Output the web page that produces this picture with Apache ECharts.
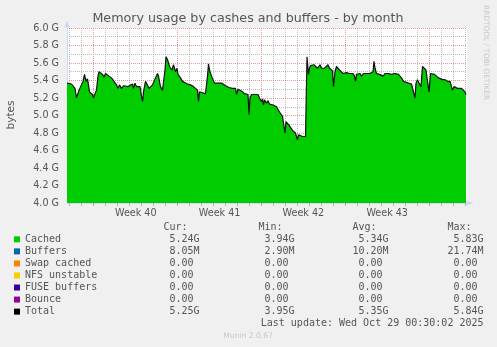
<!DOCTYPE html>
<html>
<head>
<meta charset="utf-8">
<script src="https://cdn.jsdelivr.net/npm/echarts@6/dist/echarts.min.js"></script>
<style>
html,body{margin:0;padding:0;background:#F0F0F0;}
#chart{width:497px;height:347px;}
</style>
</head>
<body>
<div id="chart"></div>
<script>
// ---- data (hours since start of week 40, value in G bytes) ----
const hours = [-52,-48,-43,-39,-36,-33,-31,-28,-25,-20,-17,-14,-11,-9,-7,-5,-1,1,4,7,10,12,15,19,22,25,29,32,37,42,47,50,53,57,61,65,70,74,79,81,84,87,90,94,97,99,101,
105,109,112,115,119,122,125,129,131,133,135,139,142,144,146,149,151,153,155,158,161,163,165,168,170,173,175,179,182,189,195,201,205,209,211,213,215,219,222,225,229,231,233,237,240,243,247,250,254,257,261,
265,269,272,275,279,282,285,287,290,293,297,300,303,307,310,312,314,317,320,323,327,330,333,337,339,341,343,347,350,353,357,360,363,367,370,373,377,379,382,384,386,389,392,395,399,402,405,409,411,415,419,422,425,
428,431,433,435,439,442,445,449,452,454,457,460,463,467,470,473,475,479,481,484,487,490,493,497,500,503,507,510,513,517,520,523,525,527,531,534,537,541,544,547,551,554,557,560,562,564,567,570,573,577,580,584,
591,594,597,601,604,607,611,614,617,621,624,631,637,641,644,646,649,652,655,656,659,663,666,669,672,675,679,683,687,691,695,699,704,709,714,717,719,722,725,729,733,737,741,744,746];
const cachedG = [5.37,5.39,5.36,5.38,5.31,5.20,5.18,5.29,5.31,5.39,5.47,5.39,5.42,5.35,5.27,5.25,5.24,5.20,5.25,5.29,5.45,5.50,5.48,5.47,5.44,5.48,5.48,5.45,5.43,5.39,5.35,5.31,5.35,5.31,5.34,5.32,5.33,5.31,5.36,5.31,5.37,5.33,5.35,5.33,5.22,5.16,5.27,
5.39,5.37,5.31,5.29,5.35,5.39,5.43,5.48,5.45,5.39,5.33,5.29,5.31,5.52,5.67,5.64,5.62,5.56,5.57,5.52,5.58,5.54,5.50,5.54,5.47,5.48,5.43,5.39,5.37,5.36,5.35,5.33,5.31,5.29,5.16,5.27,5.29,5.26,5.27,5.25,5.45,5.59,5.52,5.45,5.41,5.37,5.39,5.37,5.39,5.37,5.38,
5.34,5.33,5.32,5.33,5.31,5.30,5.31,5.24,5.30,5.29,5.28,5.27,5.25,5.24,5.24,5.01,5.20,5.24,5.22,5.24,5.22,5.24,5.20,5.16,5.19,5.12,5.18,5.14,5.17,5.13,5.15,5.12,5.13,5.10,5.08,5.04,5.02,4.99,4.97,4.80,4.93,4.95,4.89,4.87,4.83,4.81,4.80,4.72,4.78,4.76,4.76,4.75,4.76,
5.67,5.47,5.54,5.57,5.55,5.58,5.56,5.54,5.52,5.58,5.54,5.56,5.54,5.56,5.58,5.54,5.52,5.51,5.33,5.50,5.56,5.54,5.52,5.50,5.48,5.48,5.49,5.48,5.48,5.47,5.48,5.45,5.39,5.47,5.45,5.48,5.45,5.48,5.47,5.48,5.48,5.48,5.48,5.50,5.62,5.54,5.48,5.48,5.47,5.48,5.45,5.48,
5.48,5.50,5.47,5.48,5.48,5.48,5.47,5.46,5.43,5.39,5.37,5.37,5.36,5.35,5.20,5.37,5.41,5.37,5.39,5.33,5.56,5.54,5.52,5.53,5.27,5.48,5.48,5.47,5.47,5.43,5.42,5.41,5.41,5.39,5.39,5.37,5.29,5.33,5.32,5.31,5.32,5.31,5.31,5.27,5.24];
const weekLabels = ['Week 40','Week 41','Week 42','Week 43'];
const statNames = ['Cached','Buffers','Swap cached','NFS unstable','FUSE buffers','Bounce','Total'];
const statHeaders = ['Cur:','Min:','Avg:','Max:'];
const curVals = ['5.24G','8.05M','0.00','0.00','0.00','0.00','5.25G'];
const minVals = ['3.94G','2.90M','0.00','0.00','0.00','0.00','3.95G'];
const avgVals = ['5.34G','10.20M','0.00','0.00','0.00','0.00','5.35G'];
const maxVals = ['5.83G','21.74M','0.00','0.00','0.00','0.00','5.84G'];
const titleText = 'Memory usage by cashes and buffers - by month';
const lastUpdate = 'Last update: Wed Oct 29 00:30:02 2025';

// ---- styling ----
const colors = ['#00CC00','#0066B3','#FF8000','#FFCC00','#330099','#990099','#000000'];
const FONT = '#555555';
const GRID = 'rgba(143,143,143,0.6)';
const MGRID = 'rgba(222,79,79,0.6)';
const MGRID_OPAQUE = '#EB9595';
const AXIS = '#CFD6F8';
const mono = '"DejaVu Sans Mono", monospace';
const sans = '"DejaVu Sans", sans-serif';

// tick positions (hours): day boundaries and week boundaries inside the plotted range
const dayTicks = [], weekTicks = [];
for (let h = -48; h <= 744; h += 24) { (h % 168 === 0 ? weekTicks : dayTicks).push(h); }

const chart = echarts.init(document.getElementById('chart'), null, {renderer: 'canvas'});

const series = [];
series.push({
  name: statNames[0], type: 'line', xAxisIndex: 0, yAxisIndex: 0,
  data: hours.map((h, i) => [h, cachedG[i]]),
  showSymbol: false, symbol: 'none', z: 2,
  itemStyle: {color: colors[0]}, lineStyle: {width: 0, color: colors[0]},
  areaStyle: {color: colors[0], opacity: 1, origin: 'start'}
});
for (let k = 1; k < 6; k++) {
  series.push({name: statNames[k], type: 'line', xAxisIndex: 0, yAxisIndex: 0, data: [], itemStyle: {color: colors[k]}, lineStyle: {color: colors[k]}});
}
series.push({
  name: statNames[6], type: 'line', xAxisIndex: 0, yAxisIndex: 0,
  data: hours.map((h, i) => [h, cachedG[i]]),
  showSymbol: false, symbol: 'none', z: 4,
  itemStyle: {color: colors[6]}, lineStyle: {width: 1.2, color: '#111'}
});

const graphics = [];
graphics.push({type: 'text', x: 248, y: 19, style: {text: titleText, font: '12.7px ' + sans, fill: FONT, textAlign: 'center', textVerticalAlign: 'middle'}});
graphics.push({type: 'text', x: 11, y: 115, rotation: Math.PI / 2, style: {text: 'bytes', font: '10.5px ' + sans, fill: FONT, textAlign: 'center', textVerticalAlign: 'middle'}});
graphics.push({type: 'text', x: 486, y: 5, rotation: -Math.PI / 2, style: {text: 'RRDTOOL / TOBI OETIKER', font: '7.4px ' + sans, fill: '#C8C8C8', textAlign: 'left', textVerticalAlign: 'middle'}});
const colRight = [199.5, 294.5, 388.5, 483.5];
const cols = [curVals, minVals, avgVals, maxVals];
statHeaders.forEach((h, c) => {
  graphics.push({type: 'text', x: colRight[c] - 12.04, y: 227.7, style: {text: h, font: '10px ' + mono, fill: FONT, textAlign: 'right', textVerticalAlign: 'middle'}});
});
cols.forEach((vals, c) => {
  vals.forEach((v, r) => {
    const hasUnit = /[A-Za-z]$/.test(v);
    graphics.push({type: 'text', x: colRight[c] - (hasUnit ? 0 : 6.02), y: 239.3 + r * 12.05,
      style: {text: v, font: '10px ' + mono, fill: FONT, textAlign: 'right', textVerticalAlign: 'middle'}});
  });
});
graphics.push({type: 'text', x: 483.5, y: 323.7, style: {text: lastUpdate, font: '10px ' + mono, fill: FONT, textAlign: 'right', textVerticalAlign: 'middle'}});
graphics.push({type: 'text', x: 248, y: 336, style: {text: 'Munin 2.0.67', font: '7.6px ' + sans, fill: '#C8C8C8', textAlign: 'center', textVerticalAlign: 'middle'}});

const plotTop = 28, plotBottom = 144, plotRight = 30;
const hidden = {axisLine: {show: false}, axisTick: {show: false}, axisLabel: {show: false}};

chart.setOption({
  animation: false,
  backgroundColor: '#F0F0F0',
  grid: [
    {left: 67, right: plotRight, top: plotTop, bottom: plotBottom, show: true, backgroundColor: '#FFFFFF', borderWidth: 0, z: 0},
    // day grid lines: grid starts on a day boundary 12px left of the plot edge
    {left: 57, right: plotRight, top: plotTop, bottom: plotBottom},
    // week grid lines: grid starts on a week boundary
    {left: 9, right: plotRight, top: plotTop, bottom: plotBottom},
    // week labels: grid starts half a week before the first label
    {left: 52, right: plotRight, top: plotTop, bottom: plotBottom},
    // minor horizontal lines (odd tenths): grid extended by 0.1 G above and below
    {left: 67, right: plotRight, top: plotTop - 8.75, bottom: plotBottom - 8.75}
  ],
  xAxis: [
    {
      gridIndex: 0, type: 'value', position: 'bottom', min: -52, max: 748, z: 3,
      axisLine: {show: true, onZero: false, lineStyle: {color: AXIS}, symbol: ['none', 'triangle'], symbolSize: [5, 7], symbolOffset: [0, 3]},
      axisTick: {show: true, customValues: dayTicks, length: 3, lineStyle: {color: GRID}},
      axisLabel: {show: false}, splitLine: {show: false}
    },
    Object.assign({gridIndex: 1, type: 'value', position: 'bottom', min: 0, max: 820, interval: 24, z: 0,
      splitLine: {show: true, showMinLine: false, showMaxLine: false, lineStyle: {color: GRID, type: 'dotted', width: 1}}}, hidden),
    Object.assign({gridIndex: 2, type: 'value', position: 'bottom', min: 0, max: 916, interval: 168, z: 1,
      splitLine: {show: true, showMinLine: false, showMaxLine: false, lineStyle: {color: MGRID_OPAQUE, type: 'dotted', width: 1}}}, hidden),
    {
      gridIndex: 3, type: 'value', position: 'bottom', min: 0, max: 832, interval: 168,
      axisLine: {show: false}, axisTick: {show: false}, splitLine: {show: false},
      axisLabel: {
        show: true, margin: 5, color: FONT, fontFamily: sans, fontSize: 9.6,
        formatter: function (v) {
          const idx = Math.round(v / 168) - 1;
          return (idx >= 0 && idx < weekLabels.length) ? weekLabels[idx] : '';
        }
      }
    },
    Object.assign({gridIndex: 4, type: 'value', position: 'bottom', min: 0, max: 1, splitLine: {show: false}}, hidden),
    {
      gridIndex: 0, type: 'value', position: 'bottom', offset: 0, min: -52, max: 748, z: 3,
      axisLine: {show: false, onZero: false},
      axisTick: {show: true, customValues: weekTicks, length: 3, lineStyle: {color: MGRID}},
      axisLabel: {show: false}, splitLine: {show: false}
    }
  ],
  yAxis: [
    {
      gridIndex: 0, type: 'value', position: 'left', min: 4, max: 6, interval: 0.2, z: 1,
      axisLine: {show: true, onZero: false, lineStyle: {color: AXIS}, symbol: ['none', 'triangle'], symbolSize: [5, 7], symbolOffset: [0, 4]},
      axisTick: {show: false},
      axisLabel: {margin: 8, color: FONT, fontFamily: sans, fontSize: 9.6, formatter: function (v) { return v.toFixed(1) + ' G'; }},
      splitLine: {show: true, lineStyle: {color: MGRID, type: 'dotted', width: 1}}
    },
    {gridIndex: 1, type: 'value', min: 4, max: 6, show: false},
    {gridIndex: 2, type: 'value', min: 4, max: 6, show: false},
    {gridIndex: 3, type: 'value', min: 4, max: 6, show: false},
    Object.assign({gridIndex: 4, type: 'value', position: 'left', min: 3.9, max: 6.1, interval: 0.2, z: 0,
      splitLine: {show: true, showMinLine: false, showMaxLine: false, lineStyle: {color: GRID, type: 'dotted', width: 1}}}, hidden)
  ],
  legend: {
    data: statNames, orient: 'vertical', left: 14, top: 233.3, padding: 0,
    itemWidth: 6, itemHeight: 6, itemGap: 0, icon: 'rect', selectedMode: false,
    textStyle: {fontFamily: mono, fontSize: 10, color: FONT, lineHeight: 12.05}
  },
  series: series,
  graphic: graphics
});
</script>
</body>
</html>
